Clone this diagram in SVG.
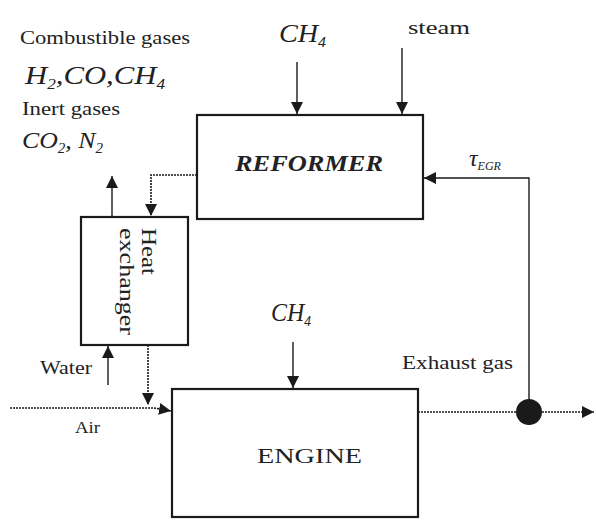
<svg xmlns="http://www.w3.org/2000/svg" width="596" height="521" viewBox="0 0 596 521">
<defs>
<marker id="ah" viewBox="0 0 10 10" refX="10" refY="5" markerWidth="12" markerHeight="12" markerUnits="userSpaceOnUse" orient="auto">
<path d="M0,0 L10,5 L0,10 z" fill="#1a1a1a"/>
</marker>
</defs>
<style>
.box{fill:#fff;stroke:#1a1a1a;stroke-width:2.2}
.ln{fill:none;stroke:#1a1a1a;stroke-width:1.4}
.dt{fill:none;stroke:#1a1a1a;stroke-width:1.6;stroke-dasharray:2 1}
.t{font-family:"Liberation Serif",serif;fill:#222}
.it{font-family:"Liberation Serif",serif;font-style:italic;fill:#222}
</style>
<rect width="596" height="521" fill="#fff"/>
<g id="labels">
<text class="t" x="20" y="44" font-size="19" textLength="170" lengthAdjust="spacingAndGlyphs">Combustible gases</text>
<text class="it" x="25" y="84" font-size="25" textLength="140" lengthAdjust="spacingAndGlyphs">H<tspan font-size="14" dy="5">2</tspan><tspan dy="-5">,CO,CH</tspan><tspan font-size="14" dy="5">4</tspan></text>
<text class="t" x="22" y="115" font-size="19" textLength="98" lengthAdjust="spacingAndGlyphs">Inert gases</text>
<text class="it" x="22" y="148" font-size="24" textLength="81" lengthAdjust="spacingAndGlyphs">CO<tspan font-size="14" dy="5">2</tspan><tspan dy="-5">, N</tspan><tspan font-size="14" dy="5">2</tspan></text>
<text class="it" x="279" y="42" font-size="25" textLength="47" lengthAdjust="spacingAndGlyphs">CH<tspan font-size="14" dy="5">4</tspan></text>
<text class="t" x="408" y="34" font-size="18" textLength="62" lengthAdjust="spacingAndGlyphs">steam</text>
<text class="it" x="469" y="166" font-size="24">τ<tspan font-size="12" dy="4">EGR</tspan></text>
<text class="it" x="271" y="321" font-size="25" textLength="40" lengthAdjust="spacingAndGlyphs">CH<tspan font-size="14" dy="5">4</tspan></text>
<text class="t" x="402" y="369" font-size="18" textLength="111" lengthAdjust="spacingAndGlyphs">Exhaust gas</text>
<text class="t" x="40" y="374" font-size="19" textLength="52" lengthAdjust="spacingAndGlyphs">Water</text>
<text class="t" x="75" y="433" font-size="17" textLength="25" lengthAdjust="spacingAndGlyphs">Air</text>
</g>
<g id="reformer">
<rect class="box" x="197" y="115" width="226" height="104"/>
<text class="it" x="235" y="171" font-size="23" font-weight="bold" textLength="148" lengthAdjust="spacingAndGlyphs">REFORMER</text>
</g>
<g id="heat-exchanger">
<rect class="box" x="81" y="217" width="107" height="128"/>
<text class="t" font-size="21" transform="translate(142,228) rotate(90)" textLength="47" lengthAdjust="spacingAndGlyphs">Heat</text>
<text class="t" font-size="21" transform="translate(120,228) rotate(90)" textLength="107" lengthAdjust="spacingAndGlyphs">exchanger</text>
</g>
<g id="engine">
<rect class="box" x="172" y="389" width="246" height="128"/>
<text class="t" x="257" y="463" font-size="22" textLength="105" lengthAdjust="spacingAndGlyphs">ENGINE</text>
</g>
<g id="connectors">
<line class="ln" x1="297" y1="62" x2="297" y2="114" marker-end="url(#ah)"/>
<line class="ln" x1="402" y1="48" x2="402" y2="114" marker-end="url(#ah)"/>
<polyline class="ln" points="529,400 529,178 424,178" marker-end="url(#ah)"/>
<polyline class="dt" points="197,175 151,175 151,216" marker-end="url(#ah)"/>
<line class="ln" x1="112" y1="217" x2="112" y2="176" marker-end="url(#ah)"/>
<line class="ln" x1="108" y1="385" x2="108" y2="346" marker-end="url(#ah)"/>
<line class="dt" x1="148" y1="345" x2="148" y2="405" marker-end="url(#ah)"/>
<polyline class="dt" points="10,408 154,408 171,411" marker-end="url(#ah)"/>
<line class="ln" x1="293" y1="342" x2="293" y2="388" marker-end="url(#ah)"/>
<line class="dt" x1="418" y1="412" x2="516" y2="412"/>
<line class="dt" x1="542" y1="412" x2="594" y2="412" marker-end="url(#ah)"/>
<circle cx="529" cy="412" r="13" fill="#1a1a1a"/>
</g>
</svg>
